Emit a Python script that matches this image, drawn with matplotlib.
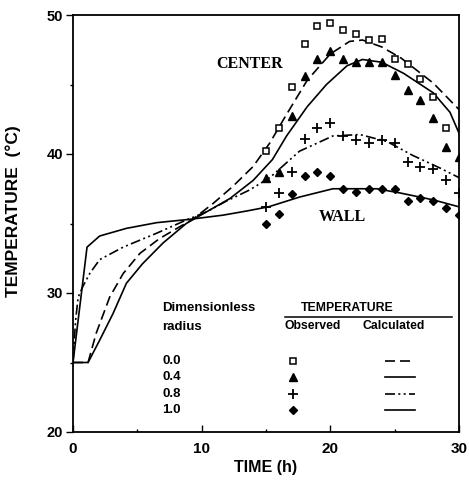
import matplotlib
matplotlib.use("Agg")
import matplotlib.pyplot as plt
from matplotlib.ticker import MultipleLocator

# ---- observed data (time in h, temperature in °C) ----
obs_time = [15, 16, 17, 18, 19, 20, 21, 22, 23, 24, 25, 26, 27, 28, 29, 30]
obs_r00 = [40.2, 41.9, 44.8, 47.9, 49.2, 49.4, 48.9, 48.6, 48.2, 48.3, 46.8, 46.5, 45.4, 44.1, 41.9, None]
obs_r04 = [38.3, 38.7, 42.7, 45.6, 46.8, 47.4, 46.8, 46.6, 46.6, 46.6, 45.7, 44.6, 43.9, 42.6, 40.5, 39.8]
obs_r08 = [36.2, 37.2, 38.7, 41.1, 41.9, 42.2, 41.3, 41.0, 40.8, 41.0, 40.8, 39.4, 39.1, 38.9, 38.1, 37.2]
obs_r10 = [35.0, 35.7, 37.1, 38.4, 38.7, 38.4, 37.5, 37.3, 37.5, 37.5, 37.5, 36.6, 36.8, 36.6, 36.1, 35.6]

# ---- calculated curves ----
calc_r00_t = [0, 1.17, 1.8, 2.85, 3.9, 5.2, 6.7, 8.3, 9.3, 10.9, 12.4, 14.0, 15.3, 16.5, 18.2, 20.0, 21.5, 22.5, 24.0, 25.5, 28.0, 30]
calc_r00_y = [25, 25, 27.1, 29.7, 31.4, 32.85, 33.9, 34.77, 35.3, 36.45, 37.65, 39.1, 40.8, 42.7, 45.3, 47.2, 48.1, 48.2, 47.7, 46.9, 45.1, 43.2]
calc_r04_t = [0, 1.17, 2.07, 3.1, 4.15, 5.4, 7.0, 8.8, 10.4, 12.2, 14.0, 15.5, 16.6, 18.2, 19.7, 21.3, 22.5, 24.0, 25.7, 28.0, 29.3, 30]
calc_r04_y = [25, 25, 26.6, 28.5, 30.7, 32.1, 33.6, 35.0, 35.85, 36.8, 38.1, 39.6, 41.3, 43.4, 45.0, 46.35, 46.8, 46.6, 45.8, 44.4, 43.0, 41.5]
calc_r08_t = [0, 0.2, 0.4, 0.78, 1.3, 2.07, 3.9, 6.5, 8.8, 10.4, 11.9, 13.7, 15.3, 17.6, 20.2, 22.3, 24.4, 26.4, 28.5, 30]
calc_r08_y = [25, 28.0, 29.7, 30.5, 31.4, 32.4, 33.3, 34.3, 35.25, 35.85, 36.6, 37.4, 38.3, 40.2, 41.3, 41.4, 40.9, 39.9, 39.0, 38.3]
calc_r10_t = [0, 1.09, 2.07, 4.15, 6.5, 9.07, 11.66, 13.5, 15.2, 17.6, 20.2, 23.6, 25.4, 28.0, 30]
calc_r10_y = [25, 33.3, 34.1, 34.65, 35.06, 35.3, 35.6, 35.9, 36.2, 36.9, 37.5, 37.5, 37.2, 36.7, 36.2]

radius_labels = ["0.0", "0.4", "0.8", "1.0"]
x_ticks = [0, 10, 20, 30]
y_ticks = [20, 30, 40, 50]

sans = "Liberation Sans"
serif = "Liberation Serif"

fig = plt.figure(figsize=(4.69, 4.84), dpi=100)
ax = fig.add_axes([73/469, 1-432/484, 386/469, 417/484])

ls_dash = (0, (6, 3))
ls_dashdot = (0, (6, 2, 1.2, 2, 1.2, 2))
styles = [
    dict(marker="s", mfc="white", mec="black", ms=5, mew=1.1),
    dict(marker="^", mfc="black", mec="black", ms=6),
    dict(marker="+", mfc="black", mec="black", ms=7, mew=1.3),
    dict(marker="D", mfc="black", mec="black", ms=4.5),
]
line_styles = [ls_dash, "-", ls_dashdot, "-"]

obs = [obs_r00, obs_r04, obs_r08, obs_r10]
calc = [(calc_r00_t, calc_r00_y), (calc_r04_t, calc_r04_y),
        (calc_r08_t, calc_r08_y), (calc_r10_t, calc_r10_y)]

for (t, y), ls in zip(calc, line_styles):
    ax.plot(t, y, color="black", lw=1.2, linestyle=ls, clip_on=True)

for ys, st in zip(obs, styles):
    tt = [t for t, v in zip(obs_time, ys) if v is not None]
    vv = [v for v in ys if v is not None]
    ax.plot(tt, vv, linestyle="none", clip_on=True, **st)

ax.set_xlim(0, 30)
ax.set_ylim(20, 50)
ax.set_xticks(x_ticks)
ax.set_yticks(y_ticks)
ax.xaxis.set_minor_locator(MultipleLocator(5))
ax.yaxis.set_minor_locator(MultipleLocator(5))
ax.tick_params(axis="x", which="major", direction="in", length=5, width=1, pad=7)
ax.tick_params(axis="x", which="minor", direction="in", length=2.5, width=1)
ax.tick_params(axis="y", which="major", direction="out", length=5, width=1, pad=2)
ax.tick_params(axis="y", which="minor", direction="out", length=2.5, width=1)
for lab in ax.get_xticklabels():
    lab.set_fontfamily(sans); lab.set_fontweight("bold"); lab.set_fontsize(11)
for lab in ax.get_yticklabels():
    lab.set_fontfamily(sans); lab.set_fontweight("bold"); lab.set_fontsize(10.5)
for sp in ax.spines.values():
    sp.set_linewidth(1.3)

ax.set_xlabel("TIME (h)", family=sans, weight="bold", fontsize=11.5, labelpad=3)
ax.set_ylabel("TEMPERATURE  (°C)", family=sans, weight="bold", fontsize=12.5, labelpad=14)
ax.yaxis.set_label_coords(-0.135, 0.53)

ax.text(13.7, 46.5, "CENTER", family=serif, weight="bold", fontsize=11.5, ha="center", va="center")
ax.text(20.9, 35.5, "WALL", family=serif, weight="bold", fontsize=11.5, ha="center", va="center")

# ---- legend table ----
T = ax.transAxes
lf = dict(family=sans, weight="bold", fontsize=9.5, transform=T)
ax.text(0.2306, 0.297, "Dimensionless", ha="left", va="center", **lf)
ax.text(0.2306, 0.252, "radius", ha="left", va="center", **lf)
ax.text(0.710, 0.297, "TEMPERATURE", ha="center", va="center", family=sans, weight="bold", fontsize=8.8, transform=T)
ax.plot([0.549, 0.982], [0.276, 0.276], color="black", lw=1.1, transform=T)
ax.text(0.622, 0.254, "Observed", ha="center", va="center", family=sans, weight="bold", fontsize=8.8, transform=T)
ax.text(0.832, 0.254, "Calculated", ha="center", va="center", family=sans, weight="bold", fontsize=8.8, transform=T)
rows_y = [0.170, 0.131, 0.090, 0.053]
for lab, yy, st, ls in zip(radius_labels, rows_y, styles, line_styles):
    ax.text(0.2306, yy, lab, ha="left", va="center", **lf)
    ax.plot([0.569], [yy], linestyle="none", transform=T, **st)
    ax.plot([0.808, 0.886], [yy, yy], color="black", lw=1.2, linestyle=ls, transform=T)

fig.savefig("out.png", dpi=100)
